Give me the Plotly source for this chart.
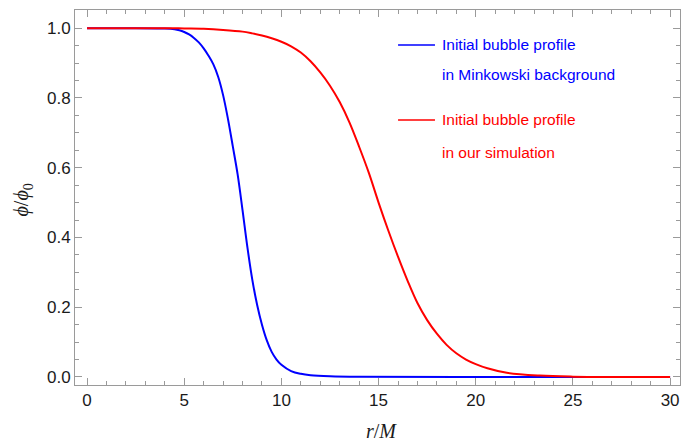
import plotly.graph_objects as go

# Blue: initial bubble profile in Minkowski background
blue_r = [0, 2, 4, 4.5, 4.75, 5.0, 5.25, 5.5, 5.75, 6.0, 6.25, 6.5, 6.75, 7.0,
          7.25, 7.5, 7.75, 8.0, 8.25, 8.5, 8.75, 9.0, 9.25, 9.5, 9.75, 10.0,
          10.5, 11.0, 11.5, 12.5, 14.0, 20.0, 30.0]
blue_phi = [1.0, 1.0, 0.999, 0.997, 0.994, 0.989, 0.982, 0.972, 0.959, 0.942,
            0.921, 0.896, 0.860, 0.808, 0.740, 0.661, 0.580, 0.478, 0.372,
            0.280, 0.207, 0.150, 0.105, 0.072, 0.050, 0.035, 0.017, 0.009,
            0.005, 0.002, 0.0005, 0.0, 0.0]

# Red: initial bubble profile in our simulation
red_r = [0, 4, 5, 6, 7, 8.0, 8.5, 9.0, 9.5, 10.0, 10.5, 11.0, 11.5, 12.0, 12.5,
         13.0, 13.5, 14.0, 14.5, 15.0, 15.5, 16.0, 16.5, 17.0, 17.5, 18.0,
         18.5, 19.0, 19.5, 20.0, 20.6, 21.6, 23.3, 25.0, 27.0, 30.0]
red_phi = [1.0, 1.0, 0.999, 0.998, 0.995, 0.990, 0.985, 0.979, 0.971, 0.961,
           0.948, 0.930, 0.905, 0.873, 0.835, 0.788, 0.730, 0.660, 0.585,
           0.500, 0.420, 0.345, 0.275, 0.212, 0.163, 0.124, 0.092, 0.068,
           0.050, 0.037, 0.025, 0.012, 0.004, 0.001, 0.0, 0.0]

x_ticks = [0, 5, 10, 15, 20, 25, 30]
y_ticks = [0.0, 0.2, 0.4, 0.6, 0.8, 1.0]
y_ticklabels = ["0.0", "0.2", "0.4", "0.6", "0.8", "1.0"]

legend_blue = ["Initial bubble profile", "in Minkowski background"]
legend_red = ["Initial bubble profile", "in our simulation"]
x_title = "<i>r</i>/<i>M</i>"
y_title = "<i>ϕ</i>/<i>ϕ</i><sub>0</sub>"

fig = go.Figure()
fig.add_trace(go.Scatter(x=blue_r, y=blue_phi, mode="lines",
                         line=dict(color="#0000FF", width=2, shape="spline", smoothing=1.0),
                         showlegend=False))
fig.add_trace(go.Scatter(x=red_r, y=red_phi, mode="lines",
                         line=dict(color="#FF0000", width=2, shape="spline", smoothing=1.0),
                         showlegend=False))

frame = "#9a9a9a"
tickfont = dict(family="Liberation Sans, Arial", size=17, color="#1a1a1a")
fig.update_xaxes(range=[-0.62, 30.51], tickvals=x_ticks, ticks="inside", ticklen=7,
                 tickcolor=frame, showline=True, linecolor=frame, linewidth=1,
                 mirror="allticks", showgrid=False, zeroline=False, tickfont=tickfont,
                 automargin=False,
                 minor=dict(dtick=1, ticks="inside", ticklen=4, tickcolor=frame, showgrid=False))
fig.update_yaxes(range=[-0.023, 1.052], tickvals=y_ticks, ticktext=y_ticklabels,
                 ticks="inside", ticklen=7, tickcolor=frame, showline=True,
                 linecolor=frame, linewidth=1, mirror="allticks", showgrid=False,
                 zeroline=False, tickfont=tickfont, automargin=False,
                 minor=dict(dtick=0.05, ticks="inside", ticklen=4, tickcolor=frame, showgrid=False))

serif = "Liberation Serif, Times New Roman"
fig.add_annotation(xref="paper", yref="paper", x=0.5058, y=-0.1227, text=x_title,
                   showarrow=False, xanchor="center", yanchor="middle",
                   font=dict(family=serif, size=20, color="#1a1a1a"))
fig.add_annotation(xref="paper", yref="paper", x=-0.0868, y=0.4933, text=y_title,
                   showarrow=False, xanchor="center", yanchor="middle", textangle=-90,
                   font=dict(family=serif, size=20, color="#1a1a1a"))

lfont = "Liberation Sans, Arial"
x0, x1, xt = 0.534, 0.595, 0.603
entries = [(legend_blue, "#0000FF", 0.9067, 0.829), (legend_red, "#FF0000", 0.7067, 0.621)]
for texts, col, y1, y2 in entries:
    fig.add_shape(type="line", xref="paper", yref="paper", x0=x0, x1=x1, y0=y1, y1=y1,
                  line=dict(color=col, width=1.5))
    for t, yy in zip(texts, [y1, y2]):
        fig.add_annotation(xref="paper", yref="paper", x=xt, y=yy, text=t, showarrow=False,
                           xanchor="left", yanchor="middle",
                           font=dict(family=lfont, size=15.5, color=col))

fig.update_layout(width=683, height=445, margin=dict(l=75, r=3, t=10, b=60),
                  plot_bgcolor="white", paper_bgcolor="white")
fig.write_html("out.html", config={"displayModeBar": False},
               post_script="document.body.style.margin='0';")
